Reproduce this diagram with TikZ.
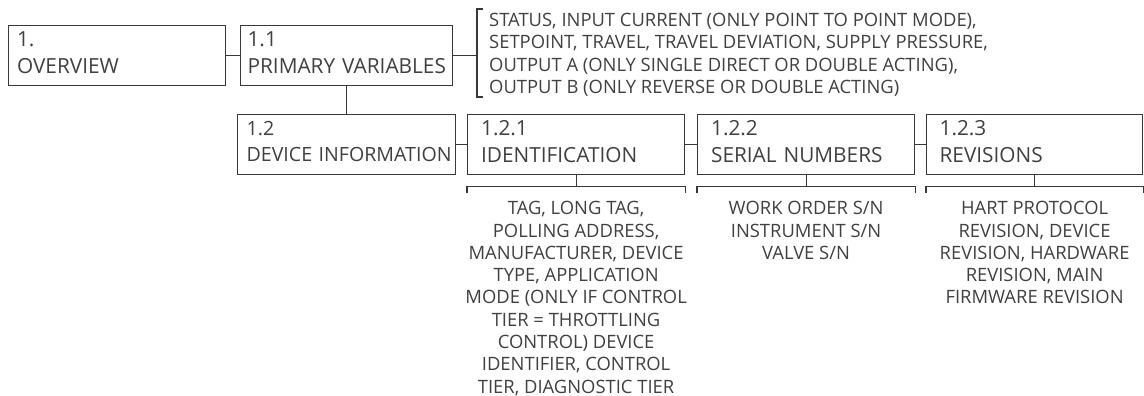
\documentclass[tikz,border=0pt]{standalone}
\usepackage{fontspec}
\setmainfont{Open Sans}
\usetikzlibrary{positioning}
\colorlet{inkgray}{black!78}
\colorlet{textgray}{black!75}
\newcommand{\boxlabel}[2]{#1\\\mbox{#2}\rule[-6pt]{0pt}{6pt}}

\tikzset{
  link/.style={draw=inkgray, line width=1.2pt},
  menubox/.style={draw=inkgray, line width=1.2pt, anchor=north west,
    minimum width=217pt, minimum height=60pt, text width=200pt,
    inner xsep=6pt, inner ysep=0pt, align=left, text=textgray,
    font=\fontsize{20.8}{26.5}\selectfont},
  subbox/.style={text width=190pt, inner xsep=11pt},
  listtext/.style={inner sep=0pt, text=textgray,
    font=\fontsize{18.4}{22.3}\selectfont},
}

\begin{document}
\begin{tikzpicture}[x=1pt, y=-1pt]
    \useasboundingbox (0,0) rectangle (1144,396);

    % Menu boxes, top row
    \node[menubox] (ov) at (8,25) {\boxlabel{1.}{OVERVIEW}};
    \node[menubox, minimum width=212pt, text width=198pt] (pv) at (240,25) {\boxlabel{1.1}{PRIMARY VARIABLES}};

    % Menu boxes, second row
    \node[menubox, minimum width=218pt, inner xsep=3pt, font=\fontsize{19.6}{26.5}\selectfont] (di) at (237,114) {\boxlabel{1.2}{DEVICE INFORMATION}};
    \node[menubox, subbox] (id) at (467,114) {\boxlabel{1.2.1}{IDENTIFICATION}};
    \node[menubox, subbox] (sn) at (697,114) {\boxlabel{1.2.2}{SERIAL NUMBERS}};
    \node[menubox, subbox, minimum width=216pt] (rv) at (926,114) {\boxlabel{1.2.3}{REVISIONS}};

    % Connectors between boxes
    \draw[link] (ov.east) -- (pv.west);
    \draw[link] (pv.south) -- (pv.south |- di.north);
    \draw[link] (di.east) -- (id.west);
    \draw[link] (id.east) -- (sn.west);
    \draw[link] (sn.east) -- (rv.west);

    % List of primary variables with its bracket
    \node[listtext, anchor=north west, align=left] (pvlist) at (489,13)
      {STATUS, INPUT CURRENT (ONLY POINT TO POINT MODE),\\
       SETPOINT, TRAVEL, TRAVEL DEVIATION, SUPPLY PRESSURE,\\
       OUTPUT A (ONLY SINGLE DIRECT OR DOUBLE ACTING),\\
       OUTPUT B (ONLY REVERSE OR DOUBLE ACTING)};
    \coordinate (pvtop) at (477,9);
    \coordinate (pvbot) at (477,97);
    \draw[link] (pvtop) ++(6,0) -- (pvtop) -- (pvbot) -- ++(6,0);
    \draw[link] (pv.east) -- (pv.east -| pvtop);

    % Brackets under the second row boxes
    \foreach \b in {id, sn, rv} {
      \draw[link] (\b.south) -- ([yshift=-11pt]\b.south);
      \draw[link] ([yshift=-18pt]\b.south west) -- ([yshift=-11pt]\b.south west)
        -- ([yshift=-11pt]\b.south east) -- ([yshift=-18pt]\b.south east);
    }

    % Lists under the brackets
    \node[listtext, anchor=north, align=center] (idlist) at ([yshift=-26pt]id.south)
      {TAG, LONG TAG,\\ POLLING ADDRESS,\\ MANUFACTURER, DEVICE\\ TYPE, APPLICATION\\
       MODE (ONLY IF CONTROL\\ TIER = THROTTLING\\ CONTROL) DEVICE\\
       IDENTIFIER, CONTROL\\ TIER, DIAGNOSTIC TIER};
    \node[listtext, anchor=north, align=center] (snlist) at ([yshift=-26pt]sn.south)
      {WORK ORDER S/N\\ INSTRUMENT S/N\\ VALVE S/N};
    \node[listtext, anchor=north, align=center] (rvlist) at ([yshift=-26pt]rv.south)
      {HART PROTOCOL\\ REVISION, DEVICE\\ REVISION, HARDWARE\\ REVISION, MAIN\\
       FIRMWARE REVISION};
\end{tikzpicture}
\end{document}
